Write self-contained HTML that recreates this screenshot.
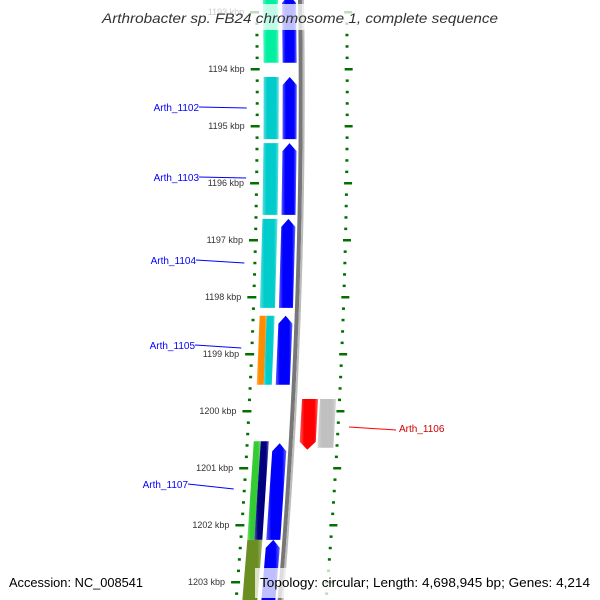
<!DOCTYPE html>
<html><head><meta charset="utf-8"><style>
html,body{margin:0;padding:0;background:#fff;width:600px;height:600px;overflow:hidden}
svg{display:block;overflow:hidden;font-family:"Liberation Sans","DejaVu Sans",sans-serif}
</style></head><body>
<svg id="map" width="600" height="600" viewBox="0 0 600 600" xmlns="http://www.w3.org/2000/svg">
<defs>
<linearGradient id="shade" x1="0" x2="1" y1="0" y2="0">
<stop offset="0" stop-color="#fff" stop-opacity="0.35"/><stop offset="0.25" stop-color="#fff" stop-opacity="0"/>
<stop offset="0.8" stop-color="#fff" stop-opacity="0"/><stop offset="1" stop-color="#fff" stop-opacity="0.4"/></linearGradient>
<clipPath id="frame"><rect x="0" y="0" width="600" height="600"/></clipPath>
</defs>
<g id="layer" clip-path="url(#frame)"></g>
<rect x="100" y="4" width="400" height="26" fill="#fff" fill-opacity="0.75"/>
<text x="102" y="23" textLength="396" lengthAdjust="spacingAndGlyphs" font-size="14" font-style="italic" fill="#333">Arthrobacter sp. FB24 chromosome 1, complete sequence</text>
<rect x="255" y="568" width="340" height="30" fill="#fff" fill-opacity="0.75"/>
<text x="9" y="587" textLength="134" lengthAdjust="spacingAndGlyphs" font-size="13" fill="#000">Accession: NC_008541</text>
<text x="260" y="587" textLength="330" lengthAdjust="spacingAndGlyphs" font-size="13" fill="#000">Topology: circular; Length: 4,698,945 bp; Genes: 4,214</text>
</svg>
<script>
// data
const tickKbp = [1193,1194,1195,1196,1197,1198,1199,1200,1201,1202,1203];
const geneNames = ["Arth_1101","Arth_1102","Arth_1103","Arth_1104","Arth_1105","Arth_1106","Arth_1107","Arth_1108"];
const geneStart = [1192.7,1194.14,1195.30,1196.63,1198.33,1199.79,1200.53,1202.26];
const geneEnd   = [1193.89,1195.23,1196.56,1198.19,1199.54,1200.68,1202.26,1204.2];
const geneStrand = [1,1,1,1,1,-1,1,1];
const cogColorA = ["#00f0a0","#00cccc","#00cccc","#00cccc","#ff8c00","#ff0000","#33cc33","#6b8e23"];
const cogColorB = ["","","","","#00cccc","","#000080",""];
const labelShown = [false,true,true,true,true,true,true,false];

// axis functions
function yOf(k){return 69+(k-1194)*57;}
function bx(y){return 302+0.0155*y-8.25e-5*y*y;}
const NS="http://www.w3.org/2000/svg";
const layer=document.getElementById('layer');
function mk(tag,attrs){const e=document.createElementNS(NS,tag);for(const k in attrs)e.setAttribute(k,attrs[k]);layer.appendChild(e);return e;}

// backbone
let pts=[];for(let y=0;y<=600;y+=10)pts.push([bx(y),y]);
let bb=mk('polyline',{points:pts.map(p=>(p[0]-2)+','+p[1]).join(' '),fill:'none',stroke:'#777',"stroke-width":4});


let bb2=mk('polyline',{points:pts.map(p=>(p[0]+1)+','+p[1]).join(' '),fill:'none',stroke:'#bbb',"stroke-width":2});



// ticks
for(let i=0;i<tickKbp.length;i++){
  for(let m=0;m<5;m++){
    const y=yOf(tickKbp[i]+m*0.2);
    if(y<0||y>600)continue;
    const b=bx(y),major=m===0;
    const t1=mk('rect',{x:b+(major?-52:-47),y:y-1,width:major?9:3,height:2.5,fill:'#007000'});
    
    
    const t2=mk('rect',{x:b+(major?42:43),y:y-1,width:major?8:3,height:2.5,fill:'#007000'});
    
    
    if(major){
      const lb=mk('text',{x:b-58,y:y+3,"text-anchor":"end","font-size":9,fill:'#333'});
      lb.textContent=tickKbp[i]+' kbp';
      
      
    }
  }
}

function band(y1,y2,a,b,fill,tip,name){
  const tl=8;let p=[];
  if(tip===1){p.push([bx(y1)+(a+b)/2,y1]);y1+=tl;}
  p.push([bx(y1)+b,y1]);
  const yb=tip===-1?y2-tl:y2;
  p.push([bx(yb)+b,yb]);
  if(tip===-1)p.push([bx(y2)+(a+b)/2,y2]);
  p.push([bx(yb)+a,yb]);p.push([bx(y1)+a,y1]);
  const s=p.map(q=>q[0]+','+q[1]).join(' ');
  const e=mk('polygon',{points:s,fill:fill});
  
  
  const o=mk('polygon',{points:s,fill:'url(#shade)'});
  
  
}

const labelY=[0,107,177,260,345,0,484,0];
const labelX=[0,199,199,196,195,0,188,0];
const lineDy=[0,1,1,3,3,0,5,0];
for(let i=0;i<geneNames.length;i++){
  const y1=yOf(geneStart[i]),y2=yOf(geneEnd[i]);
  const n=geneNames[i].toLowerCase().replace('_','-');
  if(geneStrand[i]===1){
    if(cogColorB[i]){band(y1,y2,-39,-32,cogColorA[i],0,n+'-cog-a');band(y1,y2,-32,-24,cogColorB[i],0,n+'-cog-b');}
    else band(y1,y2,-39,-24,cogColorA[i],0,n+'-cog');
    band(y1+(i===6?2:0),y2,-20,-6,'#0000ff',1,n+'-cds');
  }else{
    band(y1,y2,7,23,'#ff0000',-1,n+'-cds');
    band(y1,y2-2,25,41,'#c0c0c0',0,n+'-cog');
  }
  if(labelShown[i]){
    const ym=(y1+y2)/2;
    if(geneStrand[i]===1){
      const ty=labelY[i],tx=labelX[i];
      const ln=mk('line',{x1:tx,y1:ty,x2:bx(ym)-56,y2:ty+lineDy[i],stroke:'#0000ff'});
      
      
      const t=mk('text',{x:tx,y:ty+4,"text-anchor":"end","font-size":10,fill:'#0000ff'});
      t.textContent=geneNames[i];
      
      
    }else{
      const ln=mk('line',{x1:349,y1:427,x2:396,y2:430,stroke:'#ff0000'});
      
      
      const t=mk('text',{x:399,y:432,"font-size":10,fill:'#cc0000'});
      t.textContent=geneNames[i];
      
      
    }
  }
}
</script>
</body></html>
